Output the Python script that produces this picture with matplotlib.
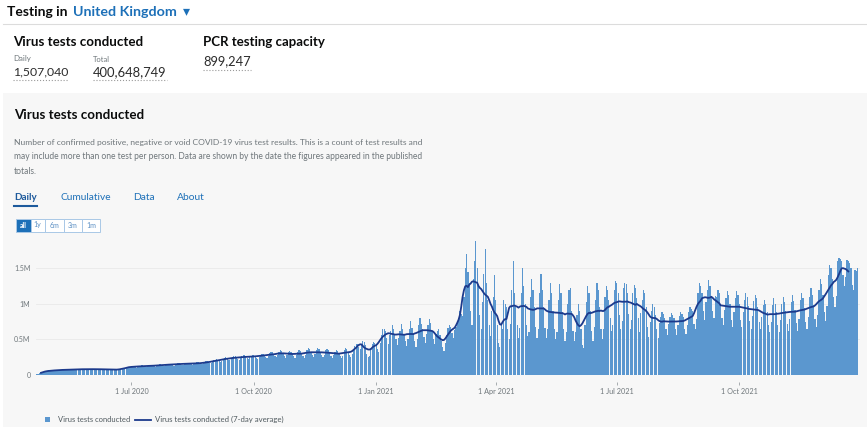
import matplotlib.pyplot as plt
import matplotlib.dates as mdates
from matplotlib.patches import Rectangle
from matplotlib.lines import Line2D
import numpy as np
import pandas as pd

W, H = 867, 429
plt.rcParams["font.family"] = ["Lato", "DejaVu Sans"]

# --- data (daily virus tests, thousands; one row per week, Tue..Mon) ---
start_date = "2020-04-21"
weekly_rows = [
    [12, 18, 25, 32, 38, 42, 48],
    [55, 60, 64, 62, 58, 56, 60],
    [68, 72, 74, 72, 68, 64, 70],
    [74, 78, 79, 77, 72, 70, 74],
    [80, 83, 84, 82, 77, 74, 78],
    [82, 86, 87, 84, 78, 76, 80],
    [83, 86, 86, 84, 78, 76, 79],
    [81, 84, 83, 81, 76, 74, 77],
    [76, 78, 78, 76, 72, 70, 74],
    [82, 88, 96, 102, 98, 94, 105],
    [118, 124, 126, 120, 110, 105, 115],
    [126, 132, 134, 128, 116, 112, 124],
    [132, 138, 140, 134, 120, 115, 130],
    [142, 148, 150, 144, 130, 124, 140],
    [150, 157, 158, 152, 138, 132, 148],
    [158, 165, 166, 160, 145, 138, 154],
    [164, 170, 172, 165, 148, 142, 160],
    [168, 176, 178, 170, 154, 148, 164],
    [180, 190, 195, 188, 170, 165, 180],
    [205, 218, 222, 212, 192, 185, 200],
    [232, 245, 248, 238, 215, 205, 225],
    [250, 262, 265, 252, 228, 218, 240],
    [262, 275, 276, 262, 236, 225, 250],
    [270, 284, 285, 270, 242, 230, 255],
    [285, 300, 300, 285, 252, 240, 265],
    [305, 320, 318, 300, 265, 250, 275],
    [330, 350, 340, 315, 270, 245, 285],
    [320, 340, 330, 305, 262, 235, 275],
    [330, 350, 335, 310, 265, 235, 280],
    [355, 375, 360, 330, 280, 250, 290],
    [355, 378, 360, 330, 280, 250, 288],
    [345, 368, 350, 322, 272, 245, 282],
    [330, 355, 338, 310, 262, 235, 270],
    [352, 378, 360, 330, 280, 250, 290],
    [370, 410, 430, 440, 400, 360, 440],
    [480, 470, 420, 290, 250, 270, 380],
    [430, 470, 450, 440, 370, 330, 450],
    [560, 640, 650, 620, 520, 440, 560],
    [620, 700, 640, 580, 500, 420, 520],
    [620, 720, 650, 570, 480, 410, 510],
    [640, 760, 660, 580, 480, 400, 510],
    [700, 800, 720, 640, 530, 450, 570],
    [700, 790, 730, 620, 500, 430, 570],
    [620, 640, 560, 480, 400, 340, 450],
    [560, 660, 700, 680, 590, 520, 630],
    [680, 750, 800, 900, 860, 830, 1100],
    [1500, 1700, 1450, 1300, 900, 700, 1350],
    [1600, 1880, 1500, 1250, 850, 650, 1020],
    [1420, 1770, 1300, 1050, 700, 550, 900],
    [1100, 1400, 1050, 700, 450, 400, 700],
    [650, 1050, 1000, 950, 650, 500, 720],
    [1200, 1600, 1150, 950, 700, 520, 660],
    [1150, 1500, 1250, 1000, 700, 550, 610],
    [1100, 1350, 1200, 950, 680, 520, 640],
    [1150, 1420, 1200, 960, 660, 520, 640],
    [1050, 1300, 1150, 900, 650, 500, 610],
    [1050, 1280, 1150, 880, 640, 480, 610],
    [1000, 1200, 1220, 900, 620, 480, 600],
    [850, 1000, 900, 650, 420, 380, 700],
    [1020, 1250, 1150, 900, 620, 480, 670],
    [1050, 1300, 1200, 950, 650, 500, 650],
    [1100, 1250, 1200, 1050, 800, 620, 700],
    [1200, 1320, 1300, 1150, 850, 650, 760],
    [1220, 1300, 1280, 1150, 860, 650, 780],
    [1150, 1270, 1230, 1080, 800, 600, 870],
    [1050, 1200, 1150, 950, 680, 530, 740],
    [900, 1000, 950, 850, 650, 520, 730],
    [820, 880, 860, 800, 640, 560, 720],
    [820, 870, 850, 800, 640, 560, 710],
    [830, 880, 860, 820, 650, 570, 710],
    [880, 950, 930, 900, 720, 640, 790],
    [1150, 1300, 1250, 1150, 900, 780, 1030],
    [1200, 1340, 1250, 1100, 900, 800, 1110],
    [1100, 1200, 1150, 1000, 800, 700, 910],
    [1080, 1180, 1120, 1000, 780, 680, 880],
    [1080, 1180, 1130, 1000, 780, 670, 880],
    [1050, 1150, 1100, 970, 760, 650, 830],
    [1040, 1130, 1080, 950, 750, 640, 815],
    [980, 1050, 1000, 880, 700, 600, 740],
    [990, 1080, 1000, 880, 700, 600, 770],
    [1000, 1100, 1030, 900, 720, 620, 790],
    [1020, 1120, 1040, 910, 730, 620, 790],
    [1050, 1160, 1080, 940, 750, 650, 810],
    [1100, 1220, 1130, 990, 790, 680, 845],
    [1200, 1350, 1280, 1120, 880, 760, 970],
    [1400, 1550, 1500, 1350, 1100, 950, 1110],
    [1600, 1640, 1630, 1600, 1400, 1250, 1380],
    [1620, 1600, 1580, 1500, 1270, 1200, 1480],
    [1460, 1507],
]

y_ticks = [0, 500000, 1000000, 1500000]
y_tick_labels = ["0", "0.5M", "1M", "1.5M"]
x_tick_dates = ["2020-07-01", "2020-10-01", "2021-01-01",
                "2021-04-01", "2021-07-01", "2021-10-01"]
x_tick_labels = ["1 Jul 2020", "1 Oct 2020", "1 Jan 2021",
                 "1 Apr 2021", "1 Jul 2021", "1 Oct 2021"]

daily_k = [v for row in weekly_rows for v in row]
dates = pd.date_range(start_date, periods=len(daily_k), freq="D")
tests = pd.Series(np.array(daily_k, dtype=float) * 1000, index=dates)
avg7 = tests.rolling(7, center=True).mean().iloc[:-7]

# colours
BAR = "#5b97cf"
LINE = "#1c3a8c"
LINK = "#1d70b8"
GREY = "#6f777b"
DARK = "#0b0c0c"
PANEL = "#f7f7f7"

fig = plt.figure(figsize=(W / 100, H / 100), dpi=100)
fig.patch.set_facecolor("white")
renderer = fig.canvas.get_renderer()


def fx(px):
    return px / W


def fy(py):
    return 1 - py / H


def put(s, x0, x1, y, size=7, **kw):
    # place text at pixel x0 and fit its width to end at x1
    t = fig.text(fx(x0), fy(y), s, fontsize=size, va="center", ha="left", **kw)
    w = t.get_window_extent(renderer).width
    t.set_fontsize(size * (x1 - x0) / w)
    return t


def hline(x0, x1, y, **kw):
    fig.add_artist(Line2D([fx(x0), fx(x1)], [fy(y), fy(y)], transform=fig.transFigure, **kw))


def box(x0, y0, x1, y1, **kw):
    fig.add_artist(Rectangle((fx(x0), fy(y1)), fx(x1) - fx(x0), fy(y0) - fy(y1),
                             transform=fig.transFigure, **kw))


# --- header ---
put("Testing in", 7, 68, 11.5, weight="bold", color=DARK)
put("United Kingdom", 73, 178, 11.5, weight="bold", color=LINK)
put("\u25BE", 183, 190, 11, color=LINK, family=["DejaVu Sans"])
hline(3, 867, 24, color="#dcdcdc", lw=0.8)

put("Virus tests conducted", 13, 144, 42.5, weight="bold", color=DARK)
put("Daily", 13, 31, 59, color=GREY)
put("Total", 93, 110, 59, color=GREY)
put("1,507,040", 13, 68, 72, color="#2b2b2b")
put("400,648,749", 93, 167, 72, color="#2b2b2b")
hline(13, 68, 80, color="#9a9a9a", lw=0.8, ls=":")
hline(93, 167, 80, color="#9a9a9a", lw=0.8, ls=":")

put("PCR testing capacity", 203, 326, 42.5, weight="bold", color=DARK)
put("899,247", 203, 251, 61.5, color="#2b2b2b")
hline(203, 251, 70, color="#9a9a9a", lw=0.8, ls=":")

# --- grey panel ---
box(3, 93, 867, 427, facecolor=PANEL, edgecolor="none", zorder=-1)

put("Virus tests conducted", 14, 145, 115, weight="bold", color=DARK)
put("Number of confirmed positive, negative or void COVID-19 virus test results. "
    "This is a count of test results and", 14, 422, 142, color=GREY)
put("may include more than one test per person. Data are shown by the date the "
    "figures appeared in the published", 14, 425, 157, color=GREY)
put("totals.", 14, 37, 171.5, color=GREY)

put("Daily", 14, 37, 197, weight="bold", color="#1d5a9c")
hline(14, 37, 206, color="#1d5a9c", lw=1.5)
put("Cumulative", 60, 111, 197, color=LINK)
put("Data", 133, 155, 197, color=LINK)
put("About", 177, 205, 197, color=LINK)

buttons = [("all", 16, 30.5), ("1y", 30.5, 45), ("6m", 45, 63.5), ("3m", 63.5, 82), ("1m", 82, 100)]
for i, (lab, b0, b1) in enumerate(buttons):
    filled = i == 0
    box(b0, 218.5, b1, 231.5, facecolor=LINK if filled else "white",
        edgecolor="#a9c8e6", lw=0.7, zorder=1)
    fig.text(fx((b0 + b1) / 2), fy(225), lab, fontsize=5, ha="center", va="center",
             color="white" if filled else "#5b8fc4", zorder=2,
             weight="bold" if filled else "normal")

# --- chart ---
ax = fig.add_axes([fx(36), fy(375), (860 - 36) / W, (375 - 236) / H])
ax.patch.set_alpha(0)
xnum = mdates.date2num(dates.to_pydatetime())
ax.bar(xnum, tests.values, width=0.9, color=BAR, linewidth=0, zorder=2)
ax.plot(xnum[:len(avg7)], avg7.values, color=LINE, lw=1.3, zorder=3)

ax.set_xlim(xnum[0] - 0.75, xnum[0] + 618.8)
ax.set_ylim(0, 1.955e6)
ax.set_yticks(y_ticks)
ax.set_yticklabels(y_tick_labels)
xt = mdates.date2num(pd.to_datetime(x_tick_dates).to_pydatetime())
ax.set_xticks(xt)
ax.set_xticklabels(x_tick_labels)
ax.grid(axis="y", color="#e9e9e9", lw=0.6, zorder=0)
for s in ["top", "right", "left"]:
    ax.spines[s].set_visible(False)
ax.spines["bottom"].set_position(("outward", 5))
ax.spines["bottom"].set_color("none")
ax.tick_params(axis="y", length=0, pad=4, labelsize=5, labelcolor=GREY)
ax.tick_params(axis="x", length=2, width=0.6, color="#9aa0a4", pad=2.5,
               labelsize=5.2, labelcolor=GREY)

# --- legend ---
box(44.5, 416.5, 50, 422, facecolor=BAR, edgecolor="none")
put("Virus tests conducted", 58, 130, 419.5, color="#505a5f")
hline(135, 151, 419.5, color=LINE, lw=1.3)
put("Virus tests conducted (7-day average)", 155, 283, 419.5, color="#505a5f")

fig.savefig("out.png", dpi=100)
